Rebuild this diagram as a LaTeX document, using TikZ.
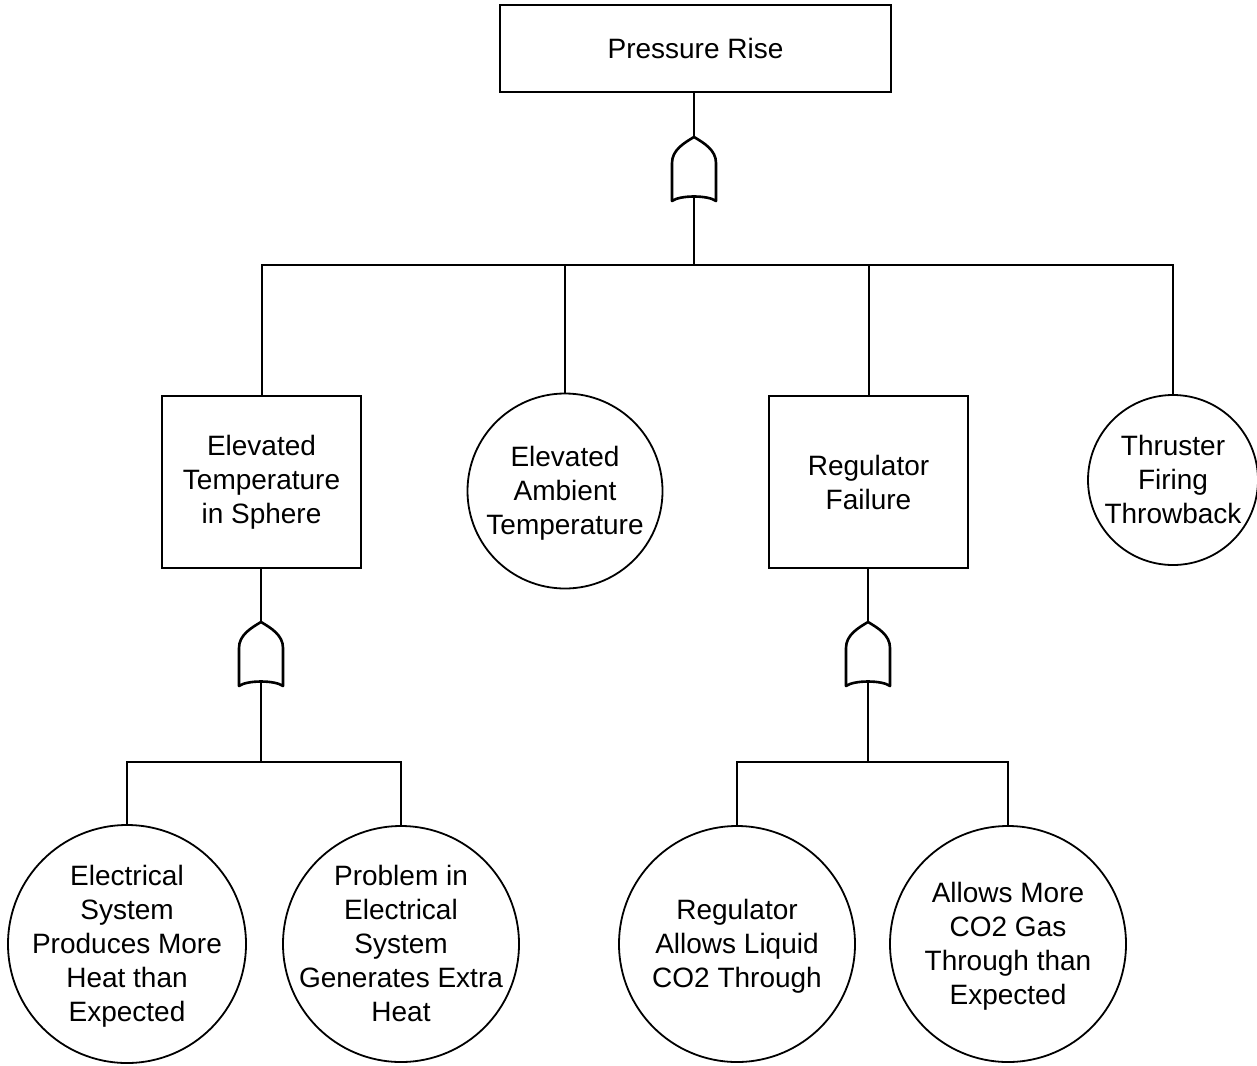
\documentclass[tikz,border=0pt]{standalone}
\usepackage{fontspec}
\setmainfont{Liberation Sans}
% lines of centred text that take no room, so a circle keeps its set size
\newcommand\lines[1]{\raisebox{-3pt}[0pt][0pt]{\vbox to 0pt{\vss\hbox to 0pt{\hss\begin{tabular}{@{}c@{}}#1\end{tabular}\hss}\vss}}}
\begin{document}
\begin{tikzpicture}[x=1pt,y=-1pt,
  label font/.style={font=\fontsize{28}{34}\selectfont},
  event/.style={draw, rectangle, line width=1.8pt, inner sep=0pt, align=center, label font},
  basic/.style={draw, circle, line width=1.8pt, inner sep=0pt, label font},
  link/.style={line width=2pt},
  gateline/.style={line width=2.6pt, line join=round},
  orgate/.pic={
    \coordinate (-in) at (0,0);
    \coordinate (-out) at (0,59);
    \draw[gateline] (-22,64) -- (-22,26)
      .. controls (-22,13) and (-10,6) .. (0,0)
      .. controls (10,6) and (22,13) .. (22,26) -- (22,64)
      .. controls (14,58) and (-14,58) .. cycle;
  }
]
\useasboundingbox (0,0) rectangle (1257,1065);

% top event
\node[event, minimum width=391pt, minimum height=87pt] (top) at (695.5,48.5) {Pressure Rise};
\pic (g0) at (694,137) {orgate};
\coordinate (j0) at (694,265);

% second level
\node[event, minimum width=199pt, minimum height=172pt] (temp) at (261.5,482) {Elevated\\Temperature\\in Sphere};
\node[basic, minimum size=195pt] (amb) at (565,491) {\lines{Elevated\\Ambient\\Temperature}};
\node[event, minimum width=199pt, minimum height=172pt] (reg) at (868.5,482) {Regulator\\Failure};
\node[basic, minimum size=170pt] (thr) at (1173,480) {\lines{Thruster\\Firing\\Throwback}};

% gates under the intermediate events
\pic (g1) at (261,622) {orgate};
\pic (g2) at (868,622) {orgate};
\coordinate (j1) at (261,762);
\coordinate (j2) at (868,762);

% basic events
\node[basic, minimum size=238pt] (elec) at (127,944) {\lines{Electrical\\System\\Produces More\\Heat than\\Expected}};
\node[basic, minimum size=236pt] (prob) at (401,944) {\lines{Problem in\\Electrical\\System\\Generates Extra\\Heat}};
\node[basic, minimum size=236pt] (liq) at (737,944) {\lines{Regulator\\Allows Liquid\\CO2 Through}};
\node[basic, minimum size=236pt] (gas) at (1008,944) {\lines{Allows More\\CO2 Gas\\Through than\\Expected}};

% connectors
\draw[link] (top.south -| g0-in) -- (g0-in);
\draw[link] (g0-out) -- (j0);
\draw[link] (temp.north) |- (j0);
\draw[link] (amb.north) |- (j0);
\draw[link] (reg.north) |- (j0);
\draw[link] (thr.north) |- (j0);

\draw[link] (temp.south -| g1-in) -- (g1-in);
\draw[link] (g1-out) -- (j1);
\draw[link] (elec.north) |- (j1);
\draw[link] (prob.north) |- (j1);

\draw[link] (reg.south -| g2-in) -- (g2-in);
\draw[link] (g2-out) -- (j2);
\draw[link] (liq.north) |- (j2);
\draw[link] (gas.north) |- (j2);
\end{tikzpicture}
\end{document}
